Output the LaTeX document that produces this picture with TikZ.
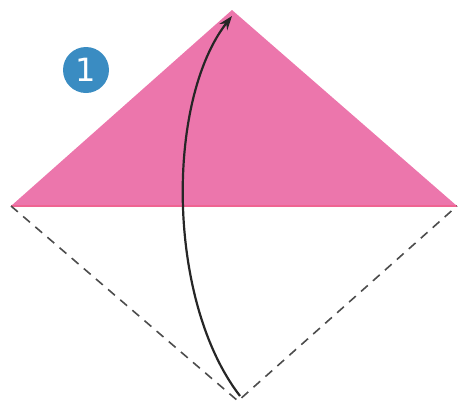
\documentclass[tikz,border=0pt]{standalone}
\usepackage{fontspec}
\setsansfont{DejaVu Sans}
\usepackage{tikz}
\usetikzlibrary{arrows.meta}

\definecolor{paperpink}{HTML}{EC76AC}
\definecolor{badgeblue}{HTML}{3A8CC2}

\begin{document}
\begin{tikzpicture}[x=1pt, y=-1pt, every node/.style={font=\sffamily}]
  \useasboundingbox (0,0) rectangle (458,405);
  % corners of the square
  \coordinate (apex)   at (232,10);
  \coordinate (left)   at (11,206);
  \coordinate (right)  at (457,206);
  \coordinate (bottom) at (238,401);
  % folded half
  \fill[paperpink] (left) -- (apex) -- (right) -- cycle;
  \draw[paperpink!85!red, line width=1.5pt] (left) -- (right);
  % open half
  \draw[black!70, line width=1.6pt, dash pattern=on 9pt off 7pt]
    (left) -- (bottom) -- (right);
  % fold arrow
  \coordinate (from) at (240,396);
  \coordinate (to)   at (232,16);
  \draw[line width=2.2pt, black!85, -{Stealth[length=14pt, width=10pt]}]
    (from) .. controls (166,300) and (166,100) .. (to);
  % step number
  \node[circle, fill=badgeblue, minimum size=46pt, inner sep=0pt,
        text=white, font=\sffamily\fontsize{32}{32}\selectfont]
    (step1) at (86,70) {1};
\end{tikzpicture}
\end{document}
